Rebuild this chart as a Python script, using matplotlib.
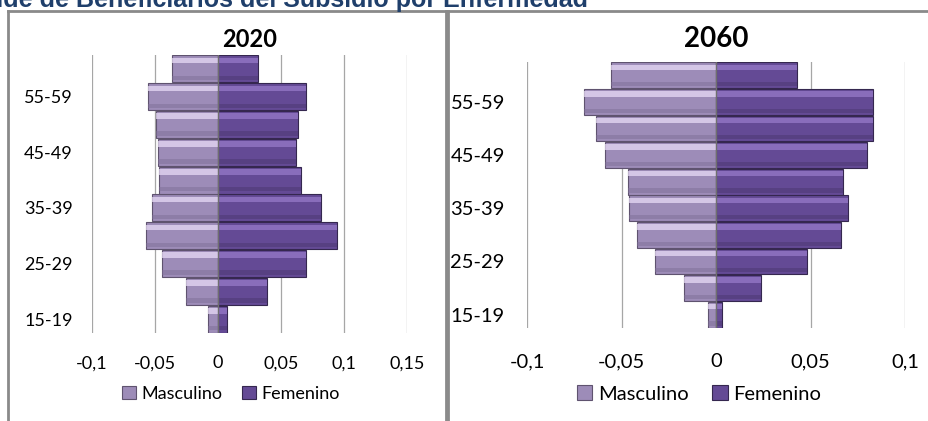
import matplotlib
matplotlib.use("Agg")
import matplotlib.pyplot as plt
from matplotlib.lines import Line2D
import numpy as np

plt.rcParams['font.family'] = ['Lato', 'DejaVu Sans']

W, H = 929, 421

# age groups, bottom to top
cats = ['15-19', '20-24', '25-29', '30-34', '35-39', '40-44', '45-49', '50-54', '55-59', '60-64']

masc_2020 = [-0.0079, -0.0252, -0.0442, -0.0574, -0.0521, -0.0468, -0.0476, -0.0495, -0.0556, -0.0363]
fem_2020 = [0.0074, 0.0391, 0.0701, 0.0947, 0.0815, 0.0656, 0.0622, 0.0635, 0.0696, 0.0320]

masc_2060 = [-0.0041, -0.0171, -0.0322, -0.0419, -0.0462, -0.0467, -0.0586, -0.0634, -0.0700, -0.0555]
fem_2060 = [0.0032, 0.0238, 0.0479, 0.0664, 0.0699, 0.0674, 0.0798, 0.0833, 0.0833, 0.0426]

xticks_2020 = [-0.1, -0.05, 0, 0.05, 0.1, 0.15]
xlabels_2020 = ['-0,1', '-0,05', '0', '0,05', '0,1', '0,15']
xticks_2060 = [-0.1, -0.05, 0, 0.05, 0.1]
xlabels_2060 = ['-0,1', '-0,05', '0', '0,05', '0,1']

# main / highlight / shadow / edge
masc_col = ('#9d8cb8', '#ecdffa', '#7f6f98', '#5f536f')
fem_col = ('#644a95', '#9a7dcc', '#4b3870', '#35274f')


def px_box(x0, x1, top, bottom):
    return [x0 / W, 1 - bottom / H, (x1 - x0) / W, (bottom - top) / H]


def pyramid(ax, masc, fem, title, xticks, xlabels, fs, title_fs, ypad, xpad, tpad):
    y = np.arange(len(cats))
    masc = np.array(masc)
    fem = np.array(fem)
    bars = []
    for vals, (main, light, dark, edge) in ((masc, masc_col), (fem, fem_col)):
        b = ax.barh(y, vals, height=0.97, color=main, edgecolor=edge, linewidth=0.8, zorder=2)
        ax.barh(y + 0.30, vals, height=0.2, color=light, alpha=0.7, linewidth=0, zorder=3)
        ax.barh(y - 0.33, vals, height=0.16, color=dark, alpha=0.5, linewidth=0, zorder=3)
        bars.append(b)
    ax.axvline(0, color='#6f6f6f', lw=1.0, zorder=4)
    ax.set_xlim(xticks[0], xticks[-1])
    ax.set_ylim(-0.5, len(cats) - 0.5)
    ax.set_xticks(xticks)
    ax.set_xticklabels(xlabels, fontsize=fs)
    ax.set_yticks(y[::2])
    ax.set_yticklabels(cats[::2], fontsize=fs)
    ax.tick_params(length=0)
    ax.tick_params(axis='y', pad=ypad)
    ax.tick_params(axis='x', pad=xpad)
    ax.grid(axis='x', color='#a6a6a6', lw=0.9, zorder=0)
    ax.set_axisbelow(True)
    for s in ax.spines.values():
        s.set_visible(False)
    ax.set_title(title, fontsize=title_fs, fontweight='bold', pad=tpad)
    return bars


fig = plt.figure(figsize=(W / 100, H / 100), dpi=100)

ax1 = fig.add_axes(px_box(92, 407, 55, 333))
b1 = pyramid(ax1, masc_2020, fem_2020, '2020', xticks_2020, xlabels_2020, 13, 17, 14, 16, 6)
ax2 = fig.add_axes(px_box(527, 905, 62, 328))
b2 = pyramid(ax2, masc_2060, fem_2060, '2060', xticks_2060, xlabels_2060, 14.5, 20, 16, 18, 11)

fig.legend(b1, ['Masculino', 'Femenino'], loc='center', bbox_to_anchor=(231 / W, 1 - 394 / H),
           ncol=2, frameon=False, fontsize=13, handlelength=0.75, handleheight=0.75,
           handletextpad=0.3, columnspacing=1.1, borderpad=0)
fig.legend(b2, ['Masculino', 'Femenino'], loc='center', bbox_to_anchor=(699 / W, 1 - 394 / H),
           ncol=2, frameon=False, fontsize=14.5, handlelength=0.75, handleheight=0.75,
           handletextpad=0.3, columnspacing=1.2, borderpad=0)

# chart frames
frame = dict(color='#8a8a8a', lw=2, transform=fig.transFigure)
fig.add_artist(Line2D([8 / W, 8 / W], [0, 1 - 11 / H], **frame))
fig.add_artist(Line2D([446 / W, 446 / W], [0, 1 - 11 / H], **frame))
fig.add_artist(Line2D([448 / W, 448 / W], [0, 1 - 11 / H], **frame))
fig.add_artist(Line2D([8 / W, 1], [1 - 11 / H, 1 - 11 / H], **frame))

# page heading, cut off by the crop as in the source image
fig.text(588 / W, 1 - 7 / H, 'Pirámide de Beneficiarios del Subsidio por Enfermedad',
         ha='right', va='baseline', fontsize=18, fontweight='bold', color='#1f3f6b',
         family=['Liberation Sans', 'DejaVu Sans'])

fig.savefig('out.png', dpi=100)
